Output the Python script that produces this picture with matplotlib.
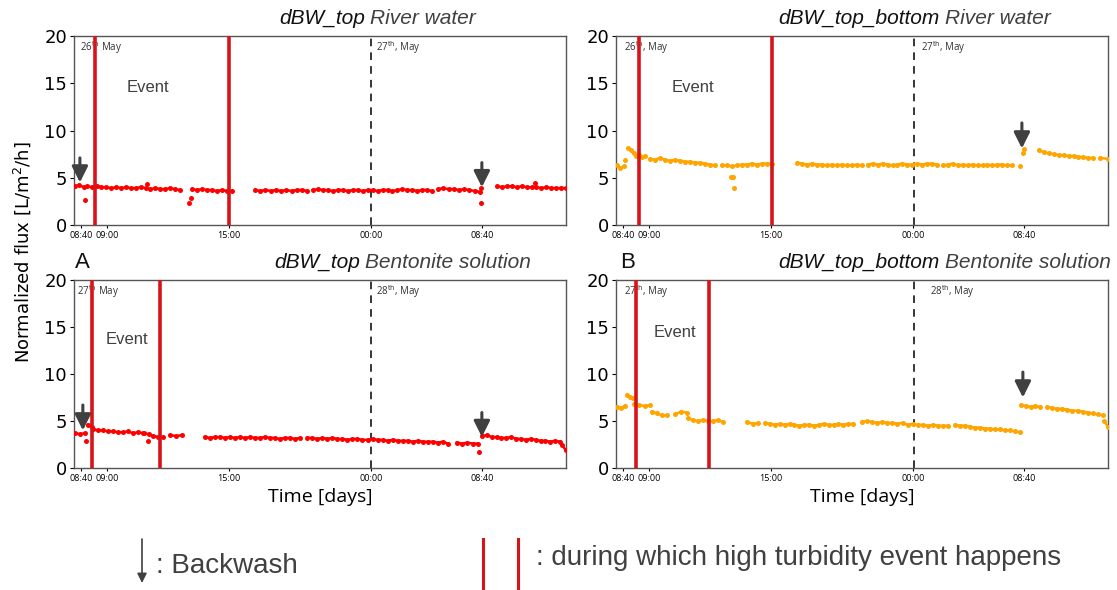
import numpy as np
import matplotlib.pyplot as plt

# x axis is in "percent of the run" units (0-100), ticks placed where the labels sit
tick_pos = [1.4, 6.7, 31.5, 60.4, 82.9]
tick_labels = ["08:40", "09:00", "15:00", "00:00", "08:40"]

# each segment: (x start, x end, flux values read along it)
tl_segments = [
    (0.2, 2.0, [4.1, 4.2, 4.0]),
    (2.6, 21.5, [4.1, 4.0, 4.1, 4.0, 4.0, 3.9, 4.0, 3.9, 4.0, 3.9, 3.9, 4.0, 3.9, 3.8, 3.9, 3.8, 3.8, 3.9, 3.8, 3.7]),
    (24.0, 32.1, [3.8, 3.7, 3.8, 3.7, 3.7, 3.6, 3.7, 3.6, 3.6]),
    (36.8, 47.4, [3.7, 3.6, 3.7, 3.6, 3.7, 3.6, 3.7, 3.6, 3.7, 3.7, 3.6]),
    (48.6, 72.8, [3.7, 3.8, 3.7, 3.7, 3.6, 3.7, 3.7, 3.6, 3.7, 3.7, 3.6, 3.7, 3.7, 3.6, 3.7, 3.7, 3.6, 3.7, 3.8,
                  3.7, 3.7, 3.6, 3.7, 3.7, 3.6]),
    (74.0, 82.5, [3.8, 3.9, 3.8, 3.8, 3.7, 3.8, 3.7, 3.6, 3.5]),
    (86.0, 100.0, [4.1, 4.0, 4.1, 4.1, 4.0, 4.1, 4.0, 4.0, 4.0, 3.9, 4.0, 3.9, 3.9, 3.9, 3.9]),
]
tl_extra_x = [2.3, 14.8, 23.4, 23.8, 82.8, 82.7, 93.7]
tl_extra_y = [2.6, 4.3, 2.3, 2.9, 3.9, 2.3, 4.4]

tr_segments = [
    (0.2, 1.6, [6.3, 6.0, 6.2]),
    (2.4, 5.9, [8.1, 7.9, 7.6, 7.3, 7.4, 7.2, 7.3]),
    (6.9, 20.1, [7.0, 6.9, 7.1, 6.9, 6.8, 6.9, 6.8, 6.7, 6.7, 6.6, 6.6, 6.5, 6.4, 6.3]),
    (21.5, 31.7, [6.3, 6.3, 6.2, 6.3, 6.4, 6.4, 6.5, 6.4, 6.5, 6.5, 6.5]),
    (36.8, 50.0, [6.6, 6.5, 6.4, 6.5, 6.4, 6.4, 6.3, 6.4, 6.3, 6.4, 6.3, 6.3, 6.4, 6.3]),
    (51.2, 65.2, [6.4, 6.5, 6.4, 6.5, 6.4, 6.3, 6.4, 6.5, 6.4, 6.4, 6.5, 6.4, 6.5, 6.5, 6.4]),
    (66.5, 80.5, [6.3, 6.4, 6.5, 6.3, 6.4, 6.3, 6.4, 6.3, 6.3, 6.4, 6.3, 6.4, 6.4, 6.3, 6.3]),
    (86.0, 97.0, [7.9, 7.7, 7.6, 7.5, 7.4, 7.4, 7.3, 7.3, 7.2, 7.2, 7.1, 7.1]),
    (98.4, 100.0, [7.1, 7.0]),
]
tr_extra_x = [1.8, 23.4, 23.8, 23.9, 82.1, 82.7, 82.9]
tr_extra_y = [6.9, 5.1, 5.1, 3.9, 6.2, 7.6, 8.0]

bl_segments = [
    (0.2, 2.2, [3.7, 3.6, 3.7]),
    (2.8, 3.7, [4.6, 4.4]),
    (3.9, 14.0, [4.1, 4.0, 4.0, 3.9, 3.9, 3.8, 3.8, 3.9, 3.7, 3.8, 3.7]),
    (14.2, 18.1, [3.7, 3.6, 3.4, 3.3, 3.3]),
    (19.5, 22.0, [3.5, 3.4, 3.5]),
    (26.6, 45.9, [3.3, 3.2, 3.3, 3.3, 3.2, 3.3, 3.2, 3.3, 3.2, 3.3, 3.2, 3.2, 3.3, 3.2, 3.2, 3.1, 3.2, 3.2, 3.1, 3.2]),
    (47.4, 76.0, [3.2, 3.2, 3.1, 3.2, 3.1, 3.2, 3.1, 3.1, 3.0, 3.1, 3.1, 3.0, 3.0, 3.1, 3.0, 3.0, 2.9, 3.0, 2.9,
                  2.9, 2.9, 2.8, 2.9, 2.8, 2.8, 2.8, 2.7, 2.8, 2.6]),
    (77.8, 82.1, [2.7, 2.6, 2.7, 2.6, 2.6]),
    (82.9, 98.8, [3.4, 3.5, 3.3, 3.3, 3.2, 3.2, 3.3, 3.1, 3.1, 3.0, 3.1, 3.0, 2.9, 2.9, 2.8, 2.9, 2.8]),
    (99.2, 100.0, [2.4, 1.9]),
]
bl_extra_x = [2.4, 15.0, 82.3]
bl_extra_y = [2.9, 2.9, 1.7]

br_segments = [
    (0.2, 1.8, [6.5, 6.4, 6.6]),
    (2.2, 3.5, [7.8, 7.6, 7.4]),
    (3.7, 6.9, [6.8, 6.7, 6.6, 6.7]),
    (7.3, 10.4, [6.0, 5.8, 5.6, 5.6]),
    (12.0, 14.4, [5.7, 6.0, 5.9]),
    (14.6, 21.7, [5.3, 5.1, 5.0, 5.1, 5.0, 5.0, 5.1, 4.9]),
    (26.6, 28.9, [4.9, 4.7, 4.8]),
    (30.3, 48.2, [4.8, 4.7, 4.6, 4.7, 4.6, 4.7, 4.6, 4.5, 4.6, 4.6, 4.5, 4.6, 4.7, 4.6, 4.6, 4.7, 4.6, 4.7, 4.7]),
    (50.0, 67.5, [4.9, 5.0, 4.9, 4.8, 4.9, 4.8, 4.8, 4.7, 4.8, 4.6, 4.7, 4.6, 4.6, 4.5, 4.6, 4.5, 4.5, 4.5]),
    (68.9, 82.1, [4.6, 4.5, 4.5, 4.4, 4.3, 4.3, 4.2, 4.2, 4.1, 4.1, 4.0, 4.0, 3.9, 3.8]),
    (82.3, 86.2, [6.7, 6.6, 6.5, 6.6, 6.5]),
    (87.6, 99.0, [6.5, 6.4, 6.3, 6.3, 6.2, 6.1, 6.1, 6.0, 5.9, 5.8, 5.7, 5.6]),
    (99.2, 100.0, [5.0, 4.4]),
]
br_extra_x = []
br_extra_y = []

# backwash arrows: (x, arrow top, arrow tip)
tl_arrows = [(1.2, 7.1, 4.5), (82.9, 6.6, 4.0)]
tr_arrows = [(82.5, 10.8, 8.1)]
bl_arrows = [(1.8, 6.7, 4.0), (82.9, 5.9, 3.3)]
br_arrows = [(82.7, 10.2, 7.5)]

tl_events = [4.3, 31.5]
tr_events = [4.7, 31.7]
bl_events = [3.7, 17.5]
br_events = [4.1, 18.9]

RED_EVENT = "#d7141a"
DARK = "#404040"


def draw_panel(ax, segments, extra_x, extra_y, color, events, arrows, midnight,
               dates, event_xy):
    for x0, x1, ys in segments:
        xs = np.linspace(x0, x1, len(ys))
        ax.plot(xs, ys, "-o", color=color, ms=3.6, mew=0, lw=1.8, zorder=3)
    ax.plot(extra_x, extra_y, "o", color=color, ms=3.6, mew=0, zorder=3)
    for ev in events:
        ax.axvline(ev, color=RED_EVENT, lw=2.6, zorder=4)
    ax.axvline(midnight, color="black", lw=1.1, ls=(0, (5, 4)), zorder=2)
    for x, top, tip in arrows:
        ax.annotate("", xy=(x, tip), xytext=(x, top),
                    arrowprops=dict(arrowstyle="-|>", color=DARK, lw=2.2,
                                    mutation_scale=24, shrinkA=0, shrinkB=0),
                    zorder=5)
    for x, label in dates:
        ax.text(x, 18.8, label, fontsize=7, color="#333333", va="center",
                family="Open Sans")
    ax.text(event_xy[0], event_xy[1], "Event", fontsize=12, color=DARK,
            ha="center", va="center", family="Liberation Sans")
    ax.set_xlim(0, 100)
    ax.set_ylim(0, 20)
    ax.set_yticks([0, 5, 10, 15, 20])
    ax.set_xticks(tick_pos)
    ax.set_xticklabels(tick_labels, fontsize=6.5, family="Open Sans")
    ax.tick_params(axis="y", labelsize=13, length=3, pad=2)
    ax.tick_params(axis="x", length=2, pad=2)
    for sp in ax.spines.values():
        sp.set_color("#555555")
        sp.set_linewidth(1)


fig = plt.figure(figsize=(11.17, 5.9), dpi=100)
W, H = 1117, 590


def axes_px(left, top, right, bottom):
    return fig.add_axes([left / W, 1 - bottom / H, (right - left) / W, (bottom - top) / H])


ax_tl = axes_px(74, 36, 566, 225)
ax_tr = axes_px(616, 36, 1108, 225)
ax_bl = axes_px(74, 280, 566, 468)
ax_br = axes_px(616, 280, 1108, 468)

th = "$^{\\mathrm{th}}$"
draw_panel(ax_tl, tl_segments, tl_extra_x, tl_extra_y, "#ff0000", tl_events, tl_arrows, 60.4,
           [(1.2, "26" + th + " May"), (61.4, "27" + th + ", May")], (15, 14.6))
draw_panel(ax_tr, tr_segments, tr_extra_x, tr_extra_y, "#ffa500", tr_events, tr_arrows, 60.6,
           [(1.6, "26" + th + ", May"), (62.0, "27" + th + ", May")], (15.6, 14.6))
draw_panel(ax_bl, bl_segments, bl_extra_x, bl_extra_y, "#ff0000", bl_events, bl_arrows, 60.4,
           [(0.6, "27" + th + " May"), (61.4, "28" + th + ", May")], (10.8, 13.7))
draw_panel(ax_br, br_segments, br_extra_x, br_extra_y, "#ffa500", br_events, br_arrows, 60.6,
           [(1.6, "27" + th + ", May"), (63.8, "28" + th + ", May")], (12.0, 14.4))

# overlay in pixel coordinates for titles, labels and the key
ov = fig.add_axes([0, 0, 1, 1])
ov.set_xlim(0, W)
ov.set_ylim(H, 0)
ov.axis("off")

titles = [(365, 18, "dBW_top", "River water"),
          (940, 18, "dBW_top_bottom", "River water"),
          (360, 262, "dBW_top", "Bentonite solution"),
          (940, 262, "dBW_top_bottom", "Bentonite solution")]
for x, y, part1, part2 in titles:
    ov.text(x, y, part1, fontsize=15, style="italic", color="#111111", ha="right", va="center",
            family="Liberation Sans")
    ov.text(x + 5, y, part2, fontsize=15, style="italic", color=DARK, ha="left", va="center",
            family="Liberation Sans")

ov.text(75, 262, "A", fontsize=16, color="#111111", va="center", family="Liberation Sans")
ov.text(620, 262, "B", fontsize=16, color="#111111", va="center", family="Liberation Sans")

ov.text(22, 252, "Normalized flux [L/m$^2$/h]", fontsize=13, rotation=90, ha="center", va="center")
ov.text(320, 497, "Time [days]", fontsize=14, ha="center", va="center", family="Open Sans")
ov.text(862, 497, "Time [days]", fontsize=14, ha="center", va="center", family="Open Sans")

# key
ov.annotate("", xy=(142, 583), xytext=(142, 539),
            arrowprops=dict(arrowstyle="-|>", color=DARK, lw=1.2, mutation_scale=14,
                            shrinkA=0, shrinkB=0))
ov.text(156, 566, ": Backwash", fontsize=20, color=DARK, va="center", family="Liberation Sans")
ov.plot([483, 483], [539, 590], color=RED_EVENT, lw=2.2)
ov.plot([518, 518], [539, 590], color=RED_EVENT, lw=2.2)
ov.text(536, 558, ": during which high turbidity event happens", fontsize=20, color=DARK,
        va="center", family="Liberation Sans")

fig.savefig("out.png", dpi=100)
